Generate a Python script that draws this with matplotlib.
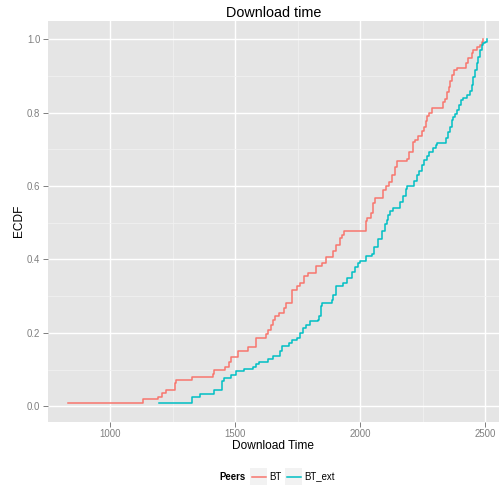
import numpy as np
import matplotlib
matplotlib.use("Agg")
import matplotlib.pyplot as plt
from matplotlib.patches import Rectangle
from matplotlib.lines import Line2D

plt.rcParams['font.family'] = ['Liberation Sans', 'DejaVu Sans']

bt_time = [833, 1133, 1193, 1207, 1223, 1261, 1265, 1329, 1413, 1417, 1460, 1476, 1482,
           1511, 1553, 1584, 1622, 1631, 1642, 1653, 1660, 1676, 1696, 1704, 1727, 1729,
           1747, 1760, 1776, 1790, 1824, 1847, 1862, 1893, 1902, 1918, 1927, 1937, 2024,
           2027, 2043, 2053, 2060, 2090, 2102, 2117, 2127, 2140, 2149, 2187, 2197, 2211,
           2220, 2232, 2247, 2256, 2262, 2268, 2275, 2287, 2331, 2340, 2348, 2354, 2360,
           2367, 2377, 2387, 2424, 2433, 2447, 2453, 2467, 2480, 2487, 2493]
bt_ecdf = [0.008, 0.019, 0.026, 0.035, 0.045, 0.063, 0.072, 0.079, 0.089, 0.098, 0.106, 0.120, 0.133,
           0.150, 0.161, 0.186, 0.197, 0.209, 0.222, 0.236, 0.245, 0.254, 0.268, 0.281, 0.290, 0.318,
           0.328, 0.336, 0.354, 0.363, 0.381, 0.390, 0.407, 0.422, 0.440, 0.458, 0.467, 0.478, 0.504,
           0.513, 0.526, 0.554, 0.567, 0.590, 0.600, 0.611, 0.631, 0.653, 0.669, 0.673, 0.694, 0.721,
           0.726, 0.737, 0.750, 0.762, 0.777, 0.790, 0.799, 0.812, 0.830, 0.836, 0.855, 0.871, 0.885,
           0.903, 0.917, 0.921, 0.934, 0.948, 0.962, 0.971, 0.978, 0.984, 0.993, 1.000]

ext_time = [1197, 1329, 1360, 1416, 1449, 1455, 1484, 1505, 1537, 1573, 1584, 1596, 1630,
            1651, 1680, 1687, 1717, 1727, 1747, 1760, 1771, 1784, 1800, 1830, 1834, 1843,
            1847, 1887, 1893, 1904, 1931, 1947, 1967, 1978, 1993, 2000, 2022, 2047, 2056,
            2073, 2087, 2100, 2109, 2113, 2120, 2130, 2160, 2173, 2184, 2189, 2216, 2227,
            2236, 2247, 2256, 2268, 2277, 2291, 2302, 2308, 2344, 2353, 2360, 2367, 2373,
            2380, 2389, 2397, 2403, 2413, 2427, 2440, 2447, 2453, 2460, 2467, 2473, 2480,
            2487, 2493, 2500, 2507]
ext_ecdf = [0.008, 0.026, 0.034, 0.044, 0.068, 0.076, 0.085, 0.095, 0.102, 0.107, 0.114, 0.120, 0.128,
            0.138, 0.150, 0.163, 0.172, 0.180, 0.186, 0.200, 0.213, 0.220, 0.231, 0.236, 0.245, 0.272,
            0.281, 0.290, 0.304, 0.327, 0.336, 0.349, 0.367, 0.379, 0.390, 0.395, 0.410, 0.415, 0.435,
            0.455, 0.478, 0.497, 0.508, 0.520, 0.533, 0.540, 0.556, 0.574, 0.593, 0.599, 0.614, 0.630,
            0.641, 0.656, 0.671, 0.683, 0.693, 0.703, 0.712, 0.718, 0.731, 0.748, 0.762, 0.780, 0.788,
            0.797, 0.807, 0.821, 0.835, 0.839, 0.848, 0.859, 0.876, 0.898, 0.917, 0.934, 0.952, 0.971,
            0.984, 0.989, 0.993, 1.000]

peers = ['BT', 'BT_ext']
colors = ['#F8766D', '#00BFC4']

x_ticks = [1000, 1500, 2000, 2500]
y_ticks = [0.0, 0.2, 0.4, 0.6, 0.8, 1.0]

# ---------------- figure ----------------
W, H = 499, 487
fig = plt.figure(figsize=(W / 100, H / 100), dpi=100)
ax = fig.add_axes([48 / W, 1 - 421.5 / H, (W - 48) / W, (421.5 - 21) / H])
ax.set_facecolor('#E5E5E5')

for xs, ys, c, lab in [(bt_time, bt_ecdf, colors[0], peers[0]),
                       (ext_time, ext_ecdf, colors[1], peers[1])]:
    ax.step(xs, ys, where='post', color=c, lw=1.1, label=lab, zorder=3)

ax.set_xlim(752, 2556)
ax.set_ylim(-0.0416, 1.0496)
ax.set_xticks(x_ticks)
ax.set_xticks([1250, 1750, 2250], minor=True)
ax.set_yticks(y_ticks)
ax.set_yticks([0.1, 0.3, 0.5, 0.7, 0.9], minor=True)
ax.set_yticklabels([f'{v:.1f}' for v in y_ticks])

ax.grid(True, which='major', color='white', lw=1.0, zorder=1)
ax.grid(True, which='minor', color='#F2F2F2', lw=0.5, zorder=1)
ax.set_axisbelow(True)
for s in ax.spines.values():
    s.set_visible(False)
ax.tick_params(which='major', length=3.5, width=0.7, color='#7F7F7F',
               labelcolor='#7F7F7F', labelsize=6.9, pad=2)
ax.tick_params(which='minor', length=0)

ax.set_xlabel('Download Time', fontsize=8.6, labelpad=0.5)
ax.set_ylabel('ECDF', fontsize=8.6, labelpad=1.5)
ax.set_title('Download time', fontsize=10.4, pad=3)

# legend drawn ggplot-style at the bottom
def px(x, y):
    return x / W, 1 - y / H

fig.text(*px(219, 476.5), 'Peers', fontsize=6.9, fontweight='bold', ha='left', va='center')
key_x = [250, 285]
text_x = [269.5, 304.5]
for kx, tx, c, lab in zip(key_x, text_x, colors, peers):
    x0, y0 = px(kx, 485)
    fig.patches.append(Rectangle((x0, y0), 17 / W, 17 / H, transform=fig.transFigure,
                                 facecolor='#F2F2F2', edgecolor='none'))
    xa, ya = px(kx + 1.5, 476.5)
    xb, _ = px(kx + 15.5, 476.5)
    fig.lines.append(Line2D([xa, xb], [ya, ya], transform=fig.transFigure, color=c, lw=1.1))
    fig.text(*px(tx, 476.5), lab, fontsize=6.9, ha='left', va='center')

fig.savefig('out.png', dpi=100)
